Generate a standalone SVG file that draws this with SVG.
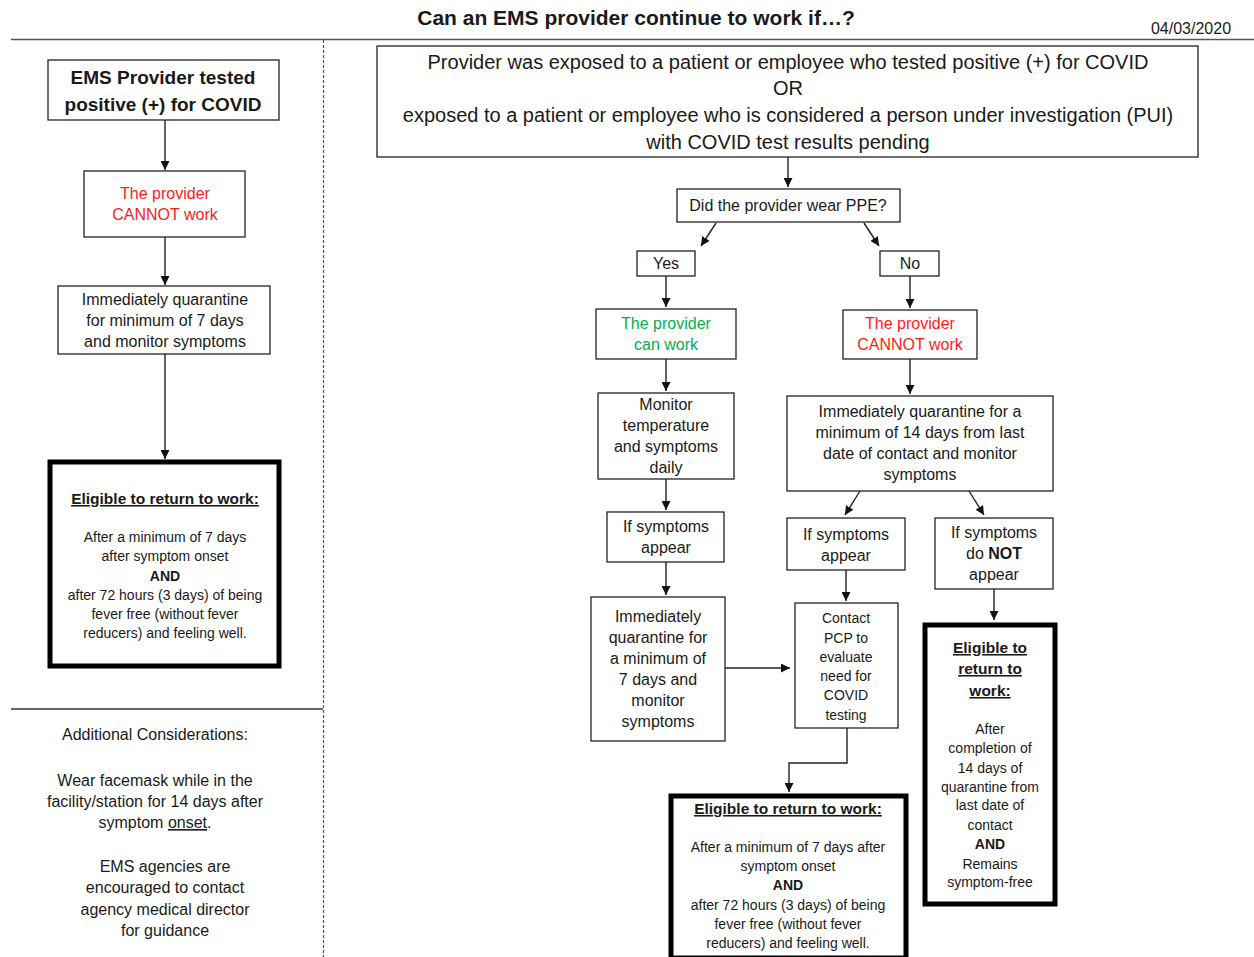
<svg xmlns="http://www.w3.org/2000/svg" width="1254" height="957" viewBox="0 0 1254 957">
<style>
text{font-family:"Liberation Sans",Arial,sans-serif;fill:#1a1a1a;text-anchor:middle}
.b{fill:#fff;stroke:#222;stroke-width:1.3}
.t{fill:#fff;stroke:#000;stroke-width:5}
.c{stroke:#222;stroke-width:1.4;fill:none}
.m{font-size:16px}
.s{font-size:14px}
.h{font-size:15.5px;font-weight:bold;text-decoration:underline}
.red{fill:#ff1a1a}
.grn{fill:#00b050}
.bd{font-weight:bold}
.u{text-decoration:underline}
</style>
<defs>
<marker id="a" viewBox="0 0 10 10" refX="10" refY="5" markerWidth="9" markerHeight="9" markerUnits="userSpaceOnUse" orient="auto">
<path d="M0,0 L10,5 L0,10 z" fill="#111"/>
</marker>
</defs>
<rect width="1254" height="957" fill="#fff"/>
<g id="header">
<text x="636" y="25" style="font-size:21px;font-weight:bold">Can an EMS provider continue to work if…?</text>
<text x="1191" y="34" style="font-size:16px">04/03/2020</text>
<line x1="11" y1="39.5" x2="1254" y2="39.5" stroke="#555" stroke-width="1.5"/>
<line x1="323.5" y1="40" x2="323.5" y2="957" stroke="#555" stroke-width="1.2" stroke-dasharray="3,2"/>
<line x1="11" y1="709" x2="323" y2="709" stroke="#333" stroke-width="1.5"/>
</g>
<g id="connectors">
<line class="c" x1="165" y1="120" x2="165" y2="170" marker-end="url(#a)"/>
<line class="c" x1="165" y1="237" x2="165" y2="285" marker-end="url(#a)"/>
<line class="c" x1="165" y1="354" x2="165" y2="459" marker-end="url(#a)"/>
<line class="c" x1="788" y1="157" x2="788" y2="187" marker-end="url(#a)"/>
<line class="c" x1="716" y1="223" x2="701" y2="246" marker-end="url(#a)"/>
<line class="c" x1="864" y1="223" x2="879" y2="246" marker-end="url(#a)"/>
<line class="c" x1="666" y1="276" x2="666" y2="307" marker-end="url(#a)"/>
<line class="c" x1="910" y1="276" x2="910" y2="308" marker-end="url(#a)"/>
<line class="c" x1="666" y1="359" x2="666" y2="391" marker-end="url(#a)"/>
<line class="c" x1="910" y1="359" x2="910" y2="394" marker-end="url(#a)"/>
<line class="c" x1="666" y1="479" x2="666" y2="510" marker-end="url(#a)"/>
<line class="c" x1="666" y1="562" x2="666" y2="595" marker-end="url(#a)"/>
<line class="c" x1="725" y1="668" x2="790" y2="668" marker-end="url(#a)"/>
<line class="c" x1="860" y1="491" x2="845" y2="515" marker-end="url(#a)"/>
<line class="c" x1="969" y1="491" x2="984" y2="515" marker-end="url(#a)"/>
<line class="c" x1="846" y1="570" x2="846" y2="601" marker-end="url(#a)"/>
<polyline class="c" points="847,728 847,763 789,763 789,792" marker-end="url(#a)"/>
<line class="c" x1="994" y1="589" x2="994" y2="620" marker-end="url(#a)"/>
</g>
<g id="n-positive">
<rect class="b" x="48" y="60" width="231" height="60"/>
<text x="163" y="84" style="font-size:19px;font-weight:bold">EMS Provider tested</text>
<text x="163" y="111" style="font-size:19px;font-weight:bold">positive (+) for COVID</text>
</g>
<g id="n-cannot-left">
<rect class="b" x="84" y="171" width="161" height="66"/>
<text class="m red" x="165" y="199">The provider</text>
<text class="m red" x="165" y="220">CANNOT work</text>
</g>
<g id="n-quarantine7">
<rect class="b" x="58" y="286" width="212" height="68"/>
<text class="m" x="165" y="305">Immediately quarantine</text>
<text class="m" x="165" y="326">for minimum of 7 days</text>
<text class="m" x="165" y="347">and monitor symptoms</text>
</g>
<g id="n-eligible-left">
<rect class="t" x="50" y="462" width="229" height="204"/>
<text x="165" y="504" class="h">Eligible to return to work:</text>
<text class="s" x="165" y="542">After a minimum of 7 days</text>
<text class="s" x="165" y="561">after symptom onset</text>
<text class="s bd" x="165" y="581">AND</text>
<text class="s" x="165" y="600">after 72 hours (3 days) of being</text>
<text class="s" x="165" y="619">fever free (without fever</text>
<text class="s" x="165" y="638">reducers) and feeling well.</text>
</g>
<g id="n-additional">
<text class="m" x="155" y="740">Additional Considerations:</text>
<text class="m" x="155" y="786">Wear facemask while in the</text>
<text class="m" x="155" y="807">facility/station for 14 days after</text>
<text class="m" x="155" y="828">symptom <tspan class="u">onset</tspan>.</text>
<text class="m" x="165" y="872">EMS agencies are</text>
<text class="m" x="165" y="893">encouraged to contact</text>
<text class="m" x="165" y="915">agency medical director</text>
<text class="m" x="165" y="936">for guidance</text>
</g>
<g id="n-exposed">
<rect class="b" x="377" y="46" width="821" height="111"/>
<text x="788" y="69" style="font-size:20px">Provider was exposed to a patient or employee who tested positive (+) for COVID</text>
<text x="788" y="95" style="font-size:20px">OR</text>
<text x="788" y="122" style="font-size:20px">exposed to a patient or employee who is considered a person under investigation (PUI)</text>
<text x="788" y="149" style="font-size:20px">with COVID test results pending</text>
</g>
<g id="n-ppe">
<rect class="b" x="677" y="189" width="223" height="33"/>
<text class="m" x="788" y="211">Did the provider wear PPE?</text>
</g>
<g id="n-yes">
<rect class="b" x="637" y="251" width="58" height="25"/>
<text class="m" x="666" y="269">Yes</text>
</g>
<g id="n-no">
<rect class="b" x="880" y="251" width="59" height="25"/>
<text class="m" x="910" y="269">No</text>
</g>
<g id="n-canwork">
<rect class="b" x="596" y="309" width="140" height="50"/>
<text class="m grn" x="666" y="329">The provider</text>
<text class="m grn" x="666" y="350">can work</text>
</g>
<g id="n-cannot-right">
<rect class="b" x="843" y="310" width="134" height="49"/>
<text class="m red" x="910" y="329">The provider</text>
<text class="m red" x="910" y="350">CANNOT work</text>
</g>
<g id="n-monitor">
<rect class="b" x="598" y="393" width="136" height="86"/>
<text class="m" x="666" y="410">Monitor</text>
<text class="m" x="666" y="431">temperature</text>
<text class="m" x="666" y="452">and symptoms</text>
<text class="m" x="666" y="473">daily</text>
</g>
<g id="n-quarantine14">
<rect class="b" x="787" y="396" width="266" height="95"/>
<text class="m" x="920" y="417">Immediately quarantine for a</text>
<text class="m" x="920" y="438">minimum of 14 days from last</text>
<text class="m" x="920" y="459">date of contact and monitor</text>
<text class="m" x="920" y="480">symptoms</text>
</g>
<g id="n-symptoms-left">
<rect class="b" x="607" y="512" width="117" height="50"/>
<text class="m" x="666" y="532">If symptoms</text>
<text class="m" x="666" y="553">appear</text>
</g>
<g id="n-quarantine7b">
<rect class="b" x="591" y="597" width="134" height="144"/>
<text class="m" x="658" y="622">Immediately</text>
<text class="m" x="658" y="643">quarantine for</text>
<text class="m" x="658" y="664">a minimum of</text>
<text class="m" x="658" y="685">7 days and</text>
<text class="m" x="658" y="706">monitor</text>
<text class="m" x="658" y="727">symptoms</text>
</g>
<g id="n-symptoms-mid">
<rect class="b" x="787" y="518" width="118" height="52"/>
<text class="m" x="846" y="540">If symptoms</text>
<text class="m" x="846" y="561">appear</text>
</g>
<g id="n-symptoms-not">
<rect class="b" x="935" y="518" width="118" height="71"/>
<text class="m" x="994" y="538">If symptoms</text>
<text class="m" x="994" y="559">do <tspan class="bd">NOT</tspan></text>
<text class="m" x="994" y="580">appear</text>
</g>
<g id="n-contact-pcp">
<rect class="b" x="795" y="603" width="103" height="125"/>
<text class="s" x="846" y="623">Contact</text>
<text class="s" x="846" y="643">PCP to</text>
<text class="s" x="846" y="662">evaluate</text>
<text class="s" x="846" y="681">need for</text>
<text class="s" x="846" y="700">COVID</text>
<text class="s" x="846" y="720">testing</text>
</g>
<g id="n-eligible-bottom">
<rect class="t" x="671" y="796" width="235" height="162"/>
<text x="788" y="814" class="h">Eligible to return to work:</text>
<text class="s" x="788" y="852">After a minimum of 7 days after</text>
<text class="s" x="788" y="871">symptom onset</text>
<text class="s bd" x="788" y="890">AND</text>
<text class="s" x="788" y="910">after 72 hours (3 days) of being</text>
<text class="s" x="788" y="929">fever free (without fever</text>
<text class="s" x="788" y="948">reducers) and feeling well.</text>
</g>
<g id="n-eligible-right">
<rect class="t" x="925" y="625" width="130" height="279"/>
<text x="990" y="653" class="h">Eligible to</text>
<text x="990" y="674" class="h">return to</text>
<text x="990" y="696" class="h">work:</text>
<text class="s" x="990" y="734">After</text>
<text class="s" x="990" y="753">completion of</text>
<text class="s" x="990" y="773">14 days of</text>
<text class="s" x="990" y="792">quarantine from</text>
<text class="s" x="990" y="810">last date of</text>
<text class="s" x="990" y="830">contact</text>
<text class="s bd" x="990" y="849">AND</text>
<text class="s" x="990" y="869">Remains</text>
<text class="s" x="990" y="887">symptom-free</text>
</g>
</svg>
